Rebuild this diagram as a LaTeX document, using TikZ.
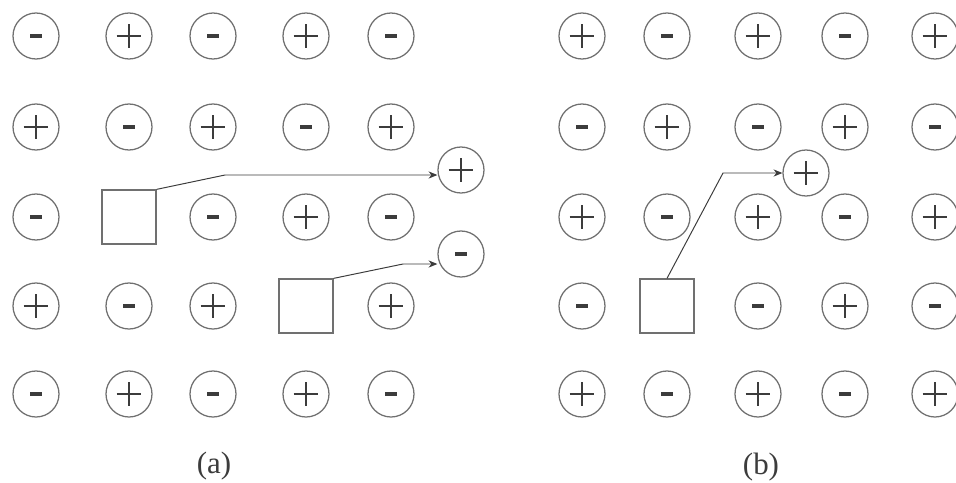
\documentclass[tikz,border=0pt]{standalone}
\usepackage{fontspec}
\setmainfont{Liberation Serif}
\usetikzlibrary{arrows.meta,positioning,calc}
\definecolor{rim}{HTML}{707070}
\definecolor{ink}{HTML}{3C3C3C}
\tikzset{
  ion/.style={circle,draw=rim,line width=0.9pt,minimum size=1.15cm,inner sep=0pt},
  cation/.style={ion,path picture={\draw[ink,line width=0.75pt]
      ([xshift=-3.1mm]path picture bounding box.center)--++(6.2mm,0)
      ([yshift=-2.9mm]path picture bounding box.center)--++(0,5.8mm);}},
  anion/.style={ion,path picture={\fill[ink]
      ([shift={(-1.5mm,-0.4mm)}]path picture bounding box.center)
      rectangle ++(3mm,0.8mm);}},
  vacancy/.style={draw=rim,line width=0.9pt,minimum size=1.35cm,inner sep=0pt},
  hop/.style={-{Stealth[length=2.2mm,width=1.8mm]},line width=0.7pt,ink},
  caption/.style={font=\fontsize{22}{26}\selectfont,text=ink},
}
\begin{document}
\begin{tikzpicture}[x=0.025cm,y=-0.025cm]
  \useasboundingbox (0,0) rectangle (956,482);
  \foreach \r/\y/\row in {
    1/36/{anion,cation,anion,cation,anion},
    2/127/{cation,anion,cation,anion,cation},
    3/217/{anion,vacancy,anion,cation,anion},
    4/306/{cation,anion,cation,vacancy,cation},
    5/394/{anion,cation,anion,cation,anion}}{
    \foreach \kind [count=\c] in \row {
      \pgfmathsetmacro{\x}{{36,129,213,306,391}[\c-1]}
      \node[\kind] (a\r\c) at (\x,\y) {};
    }
  }
  \foreach \r/\y/\row in {
    1/36/{cation,anion,cation,anion,cation},
    2/127/{anion,cation,anion,cation,anion},
    3/217/{cation,anion,cation,anion,cation},
    4/306/{anion,vacancy,anion,cation,anion},
    5/394/{cation,anion,cation,anion,cation}}{
    \foreach \kind [count=\c] in \row {
      \pgfmathsetmacro{\x}{{582,667,758,845,935}[\c-1]}
      \node[\kind] (b\r\c) at (\x,\y) {};
    }
  }
  \node[cation] (ia1) at (461,170) {};
  \node[anion] (ia2) at (461,254) {};
  \node[cation] (ib1) at (806,173) {};
  \coordinate (ka1) at (225,175);
  \coordinate (ka2) at (403,264);
  \coordinate (kb1) at (723,173);
  \draw[hop] (a32.north east) -- (ka1) -- (ka1 -| ia1.west);
  \draw[hop] (a44.north east) -- (ka2) -- (ka2 -| ia2.west);
  \draw[hop] (b42.north) -- (kb1) -- (ib1.west);
  \node[caption] (capa) at (214,466) {(a)};
  \node[caption] (capb) at (761,467) {(b)};
\end{tikzpicture}
\end{document}
